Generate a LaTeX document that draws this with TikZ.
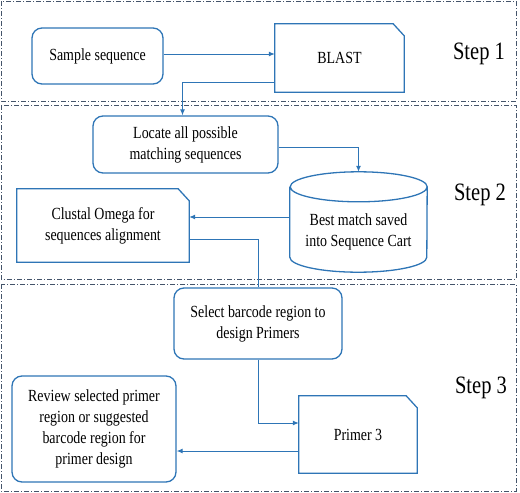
\documentclass[tikz,border=0pt]{standalone}
\usepackage{fontspec}
\setmainfont[FakeStretch=0.82]{Liberation Serif}
\usetikzlibrary{calc,arrows.meta}
\tikzset{>={Latex[length=6pt,width=5pt]}}
\definecolor{boxblue}{RGB}{46,117,182}
\definecolor{framegray}{RGB}{68,84,106}
\tikzset{
  frame/.style = {draw=framegray, line width=1pt,
    dash pattern=on 5pt off 2pt on 1pt off 2pt},
  proc/.style = {draw=boxblue, line width=1.3pt, rounded corners=10pt,
    align=center, inner sep=0pt, font=\fontsize{17}{21}\selectfont},
  plain/.style = {align=center, inner sep=0pt, font=\fontsize{17}{21}\selectfont},
  boxline/.style = {draw=boxblue, line width=1.3pt},
  link/.style = {draw=boxblue, line width=1pt},
  steplabel/.style = {font=\fontsize{25}{28}\selectfont}
}
\begin{document}
\begin{tikzpicture}[x=1pt,y=-1pt]
  \useasboundingbox (0,0) rectangle (520,493);
  % step frames
  \draw[frame] (1,1) rectangle (516,101);
  \draw[frame] (1,105) rectangle (516,279);
  \draw[frame] (1,284) rectangle (516,491);
  % step labels
  \node[steplabel] (s1) at (479,54) {Step 1};
  \node[steplabel] (s2) at (480,195) {Step 2};
  \node[steplabel] (s3) at (481,388) {Step 3};
  % boxes
  \node[proc, minimum width=131pt, minimum height=56pt] (sample) at (97.5,56) {Sample sequence};
  \node[plain, minimum width=129pt, minimum height=68pt] (blast) at (339.5,58) {BLAST};
  \node[proc, minimum width=185pt, minimum height=57pt] (locate) at (185.5,144.5) {Locate all possible\\matching sequences};
  \node[plain, minimum width=137pt, minimum height=100pt] (db) at (358.5,222) {};
  \node[plain] (dbtext) at (358.5,232) {Best match saved\\into Sequence Cart};
  \node[plain, minimum width=172pt, minimum height=73pt] (clustal) at (103,225.5) {Clustal Omega for\\sequences alignment};
  \node[proc, minimum width=168pt, minimum height=71pt] (select) at (258,323.5) {Select barcode region to\\design Primers};
  \node[plain, minimum width=118pt, minimum height=77pt] (primer) at (358,434.5) {Primer 3};
  \node[proc, minimum width=164pt, minimum height=106pt] (review) at (94,429) {Review selected primer\\region or suggested\\barcode region for\\primer design};
  % documents with a cut corner
  \foreach \n in {blast,clustal,primer}
    \draw[boxline] (\n.south west) -- (\n.north west) -- ([xshift=-11pt]\n.north east)
      -- ([yshift=-12pt]\n.north east) -- (\n.south east) -- cycle;
  % database
  \draw[boxline] ([yshift=-15pt]db.north west) -- ([yshift=15pt]db.south west)
    arc[start angle=180, end angle=360, x radius=68.5pt, y radius=15pt]
    -- ([yshift=-15pt]db.north east)
    arc[start angle=0, end angle=360, x radius=68.5pt, y radius=15pt];
  % connectors
  \draw[link,->] ([yshift=2pt]sample.east) -- ([yshift=2pt]sample.east -| blast.west);
  \draw[link,->] ([yshift=-24pt]blast.west) -| ([xshift=-3pt]locate.north);
  \draw[link,->] ([yshift=-2.5pt]locate.east) -| (db.north);
  \draw[link,->] ([yshift=5pt]db.west) -- ([yshift=5pt]db.west -| clustal.east);
  \draw[link] ([yshift=-13.5pt]clustal.east) -| (select.north);
  \draw[link,->] (select.south) |- ([yshift=11.5pt]primer.west);
  \draw[link,->] ([yshift=-16.5pt]primer.west) -- ([yshift=-16.5pt]primer.west -| review.east);
\end{tikzpicture}
\end{document}
